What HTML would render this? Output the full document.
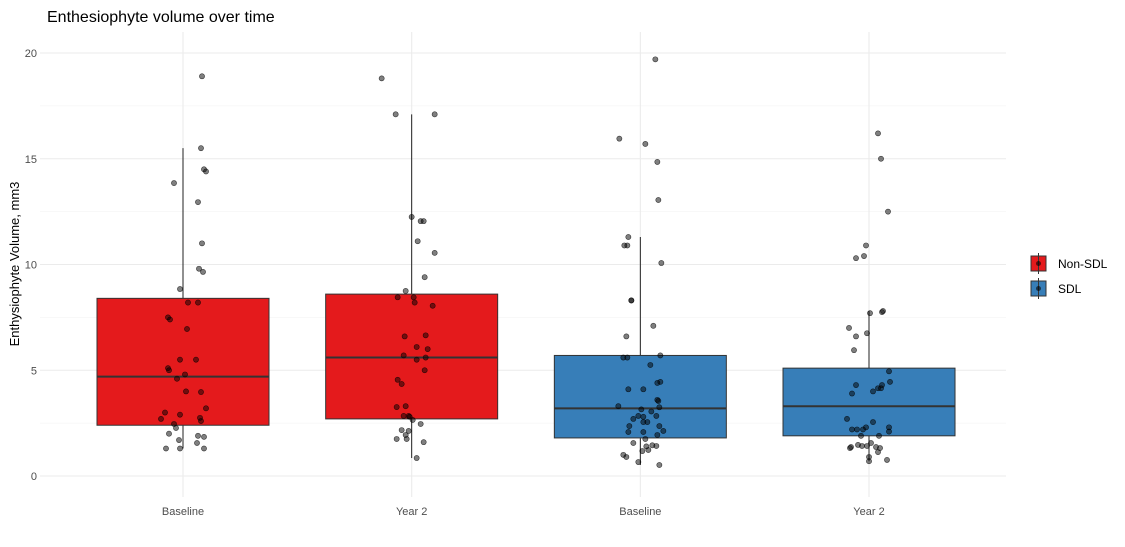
<!DOCTYPE html>
<html><head><meta charset="utf-8">
<style>
body{margin:0;background:#fff;font-family:"Liberation Sans",sans-serif;}
svg text{font-family:"Liberation Sans",sans-serif;}
</style></head>
<body>
<svg id="chart" width="1125" height="542">
<text x="47" y="22" font-size="16" fill="#000">Enthesiophyte volume over time</text>
<text transform="translate(19,264) rotate(-90)" text-anchor="middle" font-size="13" fill="#000">Enthysiophyte Volume, mm3</text>
<g id="grid"></g><g id="boxes"></g><g id="pts"></g><g id="axes"></g>
<g>
<rect x="1031" y="256" width="15" height="15" fill="#E41A1C" stroke="#333"/>
<line x1="1038.5" y1="253" x2="1038.5" y2="274" stroke="#333"/>
<circle cx="1038.5" cy="263.5" r="2.5" fill="#000" fill-opacity="0.6"/>
<text x="1058" y="268" font-size="12">Non-SDL</text>
<rect x="1031" y="281" width="15" height="15" fill="#377EB8" stroke="#333"/>
<line x1="1038.5" y1="278" x2="1038.5" y2="299" stroke="#333"/>
<circle cx="1038.5" cy="288.5" r="2.5" fill="#000" fill-opacity="0.6"/>
<text x="1058" y="293" font-size="12">SDL</text>
</g>
</svg>
<script>
const categories=["Baseline","Year 2","Baseline","Year 2"];
const groupColors=["#E41A1C","#E41A1C","#377EB8","#377EB8"];
const q1=[2.4,2.7,1.8,1.9];
const medians=[4.7,5.6,3.2,3.3];
const q3=[8.4,8.6,5.7,5.1];
const whiskerLow=[1.3,0.85,0.52,0.7];
const whiskerHigh=[15.5,17.1,11.3,7.8];
const yTicks=[0,5,10,15,20];
const vals0=[8.84,8.2,8.2,7.5,7.4,6.95,5.5,5.5,5.1,5.0,4.6,4.8,4.0,3.97,3.0,2.9,3.2,2.7,2.75,2.6,2.46,2.27,2.0,1.9,1.85,1.7,1.56,1.3,1.3,1.3,18.9,15.5,14.5,14.4,13.85,12.95,11.0,9.8,9.65];
const jit0=[-3,5,15,-15,-13,4,-3,13,-15,-14,-6,2,3,18,-18,-3,23,-22,17,18,-9,-7,-14,15,21,-4,14,-17,-3,21,19,18,21,23,-9,15,19,16,20];
const vals1=[8.75,8.45,8.45,8.2,8.05,6.6,6.65,6.1,6.0,5.7,5.5,5.6,5.0,4.55,4.35,3.26,3.3,2.84,2.84,2.8,2.65,2.46,2.17,2.13,1.94,1.75,1.75,1.6,0.85,18.8,17.1,17.1,12.25,12.05,12.05,11.1,10.55,9.4];
const jit1=[-6,-14,2,3,21,-7,14,5,16,-8,5,14,13,-14,-10,-15,-6,-8,-3,-2,1,9,-10,-3,-6,-15,-5,12,5,-30,-16,23,0,9,12,6,23,13];
const vals2=[8.3,8.3,7.1,6.6,5.6,5.6,5.7,5.25,4.45,4.4,4.1,4.1,3.6,3.55,3.25,3.3,3.15,3.05,2.84,2.8,2.84,2.7,2.55,2.55,2.36,2.36,2.08,2.08,2.13,1.94,1.75,1.56,1.4,1.45,1.42,1.18,1.23,1.0,0.9,0.66,0.52,19.7,15.95,15.7,14.85,13.05,10.07,10.9,10.9,11.3];
const jit2=[-9,-9,13,-14,-17,-13,20,10,20,17,-12,3,17,18,19,-22,1,11,-2,3,16,-7,3,7,-11,19,-12,3,23,17,5,-7,6,12,16,2,8,-17,-14,-2,19,15,-21,5,17,18,21,-16,-13,-12];
const vals3=[7.7,7.75,7.8,7.0,6.6,6.75,5.95,4.95,4.45,3.9,4.3,4.15,4.3,4.0,4.15,2.7,2.55,2.3,2.1,2.2,2.2,2.2,2.3,1.9,1.9,1.47,1.37,1.32,1.56,1.42,1.42,1.37,1.32,1.13,0.76,0.9,0.7,16.2,15.0,12.5,10.9,10.4,10.3];
const jit3=[1,13,14,-20,-13,-2,-15,20,21,-17,-13,12,13,4,9,-22,4,20,20,-17,-12,-6,-3,-8,10,-11,-18,-19,2,-7,-2,7,11,9,18,0,0,9,12,19,-3,-5,-13];
const values=[vals0,vals1,vals2,vals3];
const jitters=[jit0,jit1,jit2,jit3];

const NS="http://www.w3.org/2000/svg";
const y=v=>476-v*21.15;
const x=i=>183+i*228.67;
const boxHalf=86;
function mk(tag,attrs,parent){const e=document.createElementNS(NS,tag);for(const k in attrs)e.setAttribute(k,attrs[k]);parent.appendChild(e);return e;}
const grid=document.getElementById('grid'),boxes=document.getElementById('boxes'),pts=document.getElementById('pts'),axes=document.getElementById('axes');
// minor gridlines
for(let i=0;i<yTicks.length-1;i++){const v=(yTicks[i]+yTicks[i+1])/2;
const g=mk('line',{x1:40,x2:1006,y1:y(v),y2:y(v),stroke:'#f0f0f0','stroke-width':0.6},grid);

}
yTicks.forEach(t=>{
const g=mk('line',{x1:40,x2:1006,y1:y(t),y2:y(t),stroke:'#ebebeb','stroke-width':1.1},grid);


const tx=mk('text',{x:37,y:y(t)+4,'text-anchor':'end','font-size':11,fill:'#4d4d4d'},axes);
tx.textContent=t;


});
categories.forEach((c,i)=>{
const g=mk('line',{x1:x(i),x2:x(i),y1:32,y2:497,stroke:'#ebebeb','stroke-width':1.1},grid);


const tx=mk('text',{x:x(i),y:515,'text-anchor':'middle','font-size':11,fill:'#4d4d4d'},axes);
tx.textContent=c;


const w1=mk('line',{x1:x(i),x2:x(i),y1:y(q3[i]),y2:y(whiskerHigh[i]),stroke:'#222'},boxes);


const w2=mk('line',{x1:x(i),x2:x(i),y1:y(q1[i]),y2:y(whiskerLow[i]),stroke:'#222'},boxes);


const b=mk('rect',{x:x(i)-boxHalf,y:y(q3[i]),width:boxHalf*2,height:y(q1[i])-y(q3[i]),fill:groupColors[i],stroke:'#333','stroke-width':1},boxes);


const m=mk('line',{x1:x(i)-boxHalf,x2:x(i)+boxHalf,y1:y(medians[i]),y2:y(medians[i]),stroke:'#333','stroke-width':2},boxes);


values[i].forEach((v,k)=>{
const p=mk('circle',{cx:x(i)+jitters[i][k],cy:y(v),r:2.6,fill:'#000','fill-opacity':0.5,stroke:'#000','stroke-opacity':0.7,'stroke-width':0.6},pts);


});
});
</script>
</body></html>
